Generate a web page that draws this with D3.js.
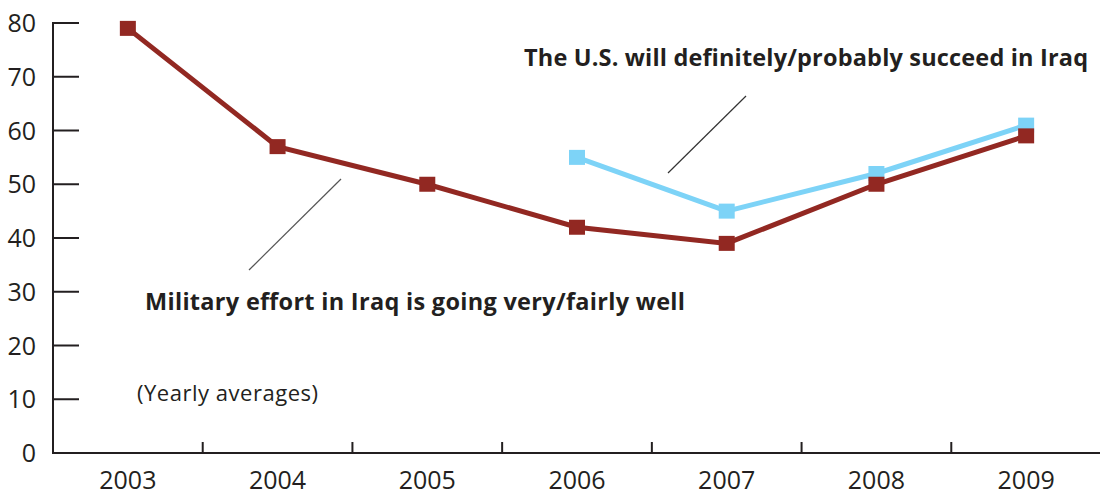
<!DOCTYPE html>
<html>
<head>
<meta charset="utf-8">
<script src="https://cdn.jsdelivr.net/npm/d3@7"></script>
<style>
  body { margin: 0; background: #fff; }
  text { font-family: "Open Sans", sans-serif; fill: #231f20; }
</style>
</head>
<body>
<div id="chart"></div>
<script>
// Data
var years = ['2003', '2004', '2005', '2006', '2007', '2008', '2009'];
var militaryEffort = [79, 57, 50, 42, 39, 50, 59];
var succeedYears = ['2006', '2007', '2008', '2009'];
var succeedValues = [55, 45, 52, 61];
var yTicks = [0, 10, 20, 30, 40, 50, 60, 70, 80];

var width = 1100, height = 495;
var ink = '#231f20';
var brown = '#922822';
var blue = '#7dd3f7';

var svg = d3.select('#chart')
  .append('svg')
  .attr('width', width)
  .attr('height', height);

// Scales
var xScale = d3.scaleBand()
  .domain(years)
  .range([53, 1101]);

var yScale = d3.scaleLinear()
  .domain([0, 80])
  .range([453, 23]);

var xMid = function(y) { return xScale(y) + xScale.bandwidth() / 2; };

// y axis: line with ticks pointing inward
var yAxis = svg.append('g');
yAxis.append('line')
  .attr('x1', 53).attr('x2', 53)
  .attr('y1', yScale(80) - 1).attr('y2', yScale(0) + 1)
  .attr('stroke', ink).attr('stroke-width', 2);
yAxis.selectAll('.ytick')
  .data(yTicks)
  .enter()
  .append('line')
  .attr('x1', 53).attr('x2', 79)
  .attr('y1', function(d) { return yScale(d); })
  .attr('y2', function(d) { return yScale(d); })
  .attr('stroke', ink).attr('stroke-width', 2);
yAxis.selectAll('.ylabel')
  .data(yTicks)
  .enter()
  .append('text')
  .attr('x', 36)
  .attr('y', function(d) { return yScale(d); })
  .attr('dy', '0.36em')
  .attr('text-anchor', 'end')
  .style('font-size', '25px')
  .text(function(d) { return d; });

// x axis: line, boundary ticks, year labels
var xAxis = svg.append('g');
xAxis.append('line')
  .attr('x1', 52).attr('x2', width)
  .attr('y1', yScale(0)).attr('y2', yScale(0))
  .attr('stroke', ink).attr('stroke-width', 2);
xAxis.selectAll('.xtick')
  .data(years.slice(1))
  .enter()
  .append('line')
  .attr('x1', function(d) { return xScale(d); })
  .attr('x2', function(d) { return xScale(d); })
  .attr('y1', yScale(0) - 11).attr('y2', yScale(0))
  .attr('stroke', ink).attr('stroke-width', 2);
xAxis.selectAll('.xlabel')
  .data(years)
  .enter()
  .append('text')
  .attr('x', xMid)
  .attr('y', 489)
  .attr('text-anchor', 'middle')
  .style('font-size', '25px')
  .text(function(d) { return d; });

var line = d3.line()
  .x(function(d) { return xMid(d.year); })
  .y(function(d) { return yScale(d.value); });

function drawSeries(yrs, vals, color) {
  var pts = yrs.map(function(y, i) { return { year: y, value: vals[i] }; });
  svg.append('path')
    .datum(pts)
    .attr('d', line)
    .attr('fill', 'none')
    .attr('stroke', color)
    .attr('stroke-width', 5);
  svg.selectAll(null)
    .data(pts)
    .enter()
    .append('rect')
    .attr('x', function(d) { return xMid(d.year) - 8; })
    .attr('y', function(d) { return yScale(d.value) - 7.5; })
    .attr('width', 16)
    .attr('height', 15)
    .attr('fill', color);
}

drawSeries(succeedYears, succeedValues, blue);
drawSeries(years, militaryEffort, brown);

// Annotations
svg.append('line')
  .attr('x1', 746).attr('y1', 96).attr('x2', 668).attr('y2', 173)
  .attr('stroke', '#333').attr('stroke-width', 1.2);
svg.append('line')
  .attr('x1', 341).attr('y1', 179).attr('x2', 249).attr('y2', 270)
  .attr('stroke', '#555').attr('stroke-width', 1.2);

svg.append('text')
  .attr('x', 524).attr('y', 66)
  .style('font-size', '23.5px')
  .style('font-weight', 700)
  .attr('textLength', 564)
  .text('The U.S. will definitely/probably succeed in Iraq');

svg.append('text')
  .attr('x', 145).attr('y', 310)
  .style('font-size', '23.5px')
  .style('font-weight', 700)
  .attr('textLength', 540)
  .text('Military effort in Iraq is going very/fairly well');

svg.append('text')
  .attr('x', 137).attr('y', 401)
  .style('font-size', '22px')
  .attr('textLength', 181)
  .text('(Yearly averages)');
</script>
</body>
</html>
